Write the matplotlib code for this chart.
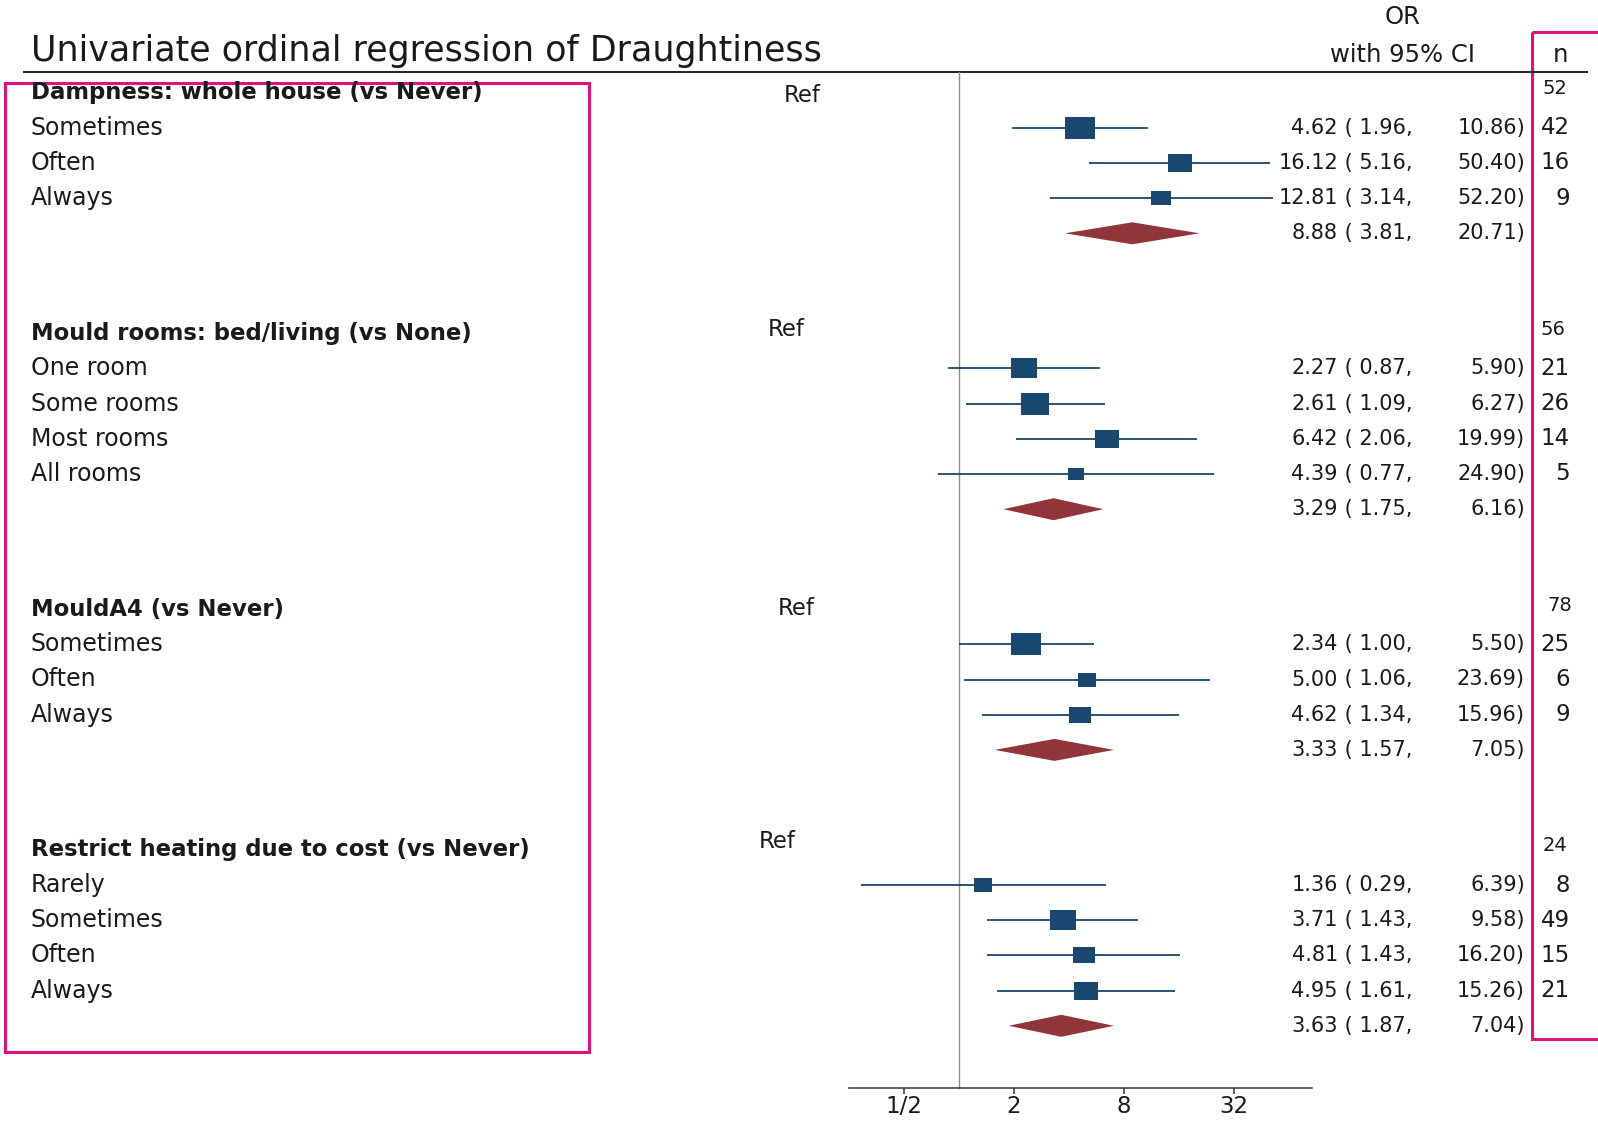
import numpy as np
import matplotlib
matplotlib.use("Agg")
import matplotlib.pyplot as plt
from matplotlib.path import Path
from matplotlib.patches import Rectangle
from matplotlib.ticker import FixedLocator, FixedFormatter, NullLocator

plt.rcParams['font.family'] = ['DejaVu Sans']

# ---------------- data ----------------
title = "Univariate ordinal regression of Draughtiness"

groups = [
    "Dampness: whole house (vs Never)",
    "Mould rooms: bed/living (vs None)",
    "MouldA4 (vs Never)",
    "Restrict heating due to cost (vs Never)",
]
ref_n = [52, 56, 78, 24]

levels = [
    ["Sometimes", "Often", "Always"],
    ["One room", "Some rooms", "Most rooms", "All rooms"],
    ["Sometimes", "Often", "Always"],
    ["Rarely", "Sometimes", "Often", "Always"],
]
odds = [
    [4.62, 16.12, 12.81],
    [2.27, 2.61, 6.42, 4.39],
    [2.34, 5.00, 4.62],
    [1.36, 3.71, 4.81, 4.95],
]
ci_low = [
    [1.96, 5.16, 3.14],
    [0.87, 1.09, 2.06, 0.77],
    [1.00, 1.06, 1.34],
    [0.29, 1.43, 1.43, 1.61],
]
ci_high = [
    [10.86, 50.40, 52.20],
    [5.90, 6.27, 19.99, 24.90],
    [5.50, 23.69, 15.96],
    [6.39, 9.58, 16.20, 15.26],
]
counts = [
    [42, 16, 9],
    [21, 26, 14, 5],
    [25, 6, 9],
    [8, 49, 15, 21],
]
pooled_or = [8.88, 3.29, 3.33, 3.63]
pooled_low = [3.81, 1.75, 1.57, 1.87]
pooled_high = [20.71, 6.16, 7.05, 7.04]

tick_values = [0.5, 2, 8, 32]
tick_labels = ["1/2", "2", "8", "32"]

# ---------------- layout (pixel units) ----------------
W, H = 1598, 1123
DPI = 100
ROW_H = 35.2
FIRST_ROW = 92.5
GROUP_GAP = 99.9
X_LABEL = 31
REF_X = [802, 786, 796, 777]
REF_DY = [3.5, -4, -1, -8]
REFN_X = [1542, 1541, 1547, 1543]
X_EST = 1338
X_HI = 1525
X_N = 1570
AXIS_Y = 1088
RULE_Y = 72
XMIN, XMAX = 0.25, 86.0
PX_PER_LOG2 = 55.0
X_ONE = 959.0

NAVY = "#1A476F"
MAROON = "#90353B"
PINK = "#E2117A"
TXT = "#1a1a1a"

fig = plt.figure(figsize=(W / DPI, H / DPI), dpi=DPI)
fig.patch.set_facecolor("white")

lay = fig.add_axes([0, 0, 1, 1])
lay.set_xlim(0, W)
lay.set_ylim(H, 0)
lay.axis("off")

x_left = X_ONE + PX_PER_LOG2 * np.log2(XMIN)
x_right = X_ONE + PX_PER_LOG2 * np.log2(XMAX)
fx = fig.add_axes([x_left / W, 0, (x_right - x_left) / W, 1])
fx.set_facecolor("none")
fx.set_xscale("log", base=2)
fx.set_xlim(XMIN, XMAX)
fx.set_ylim(H, 0)
for s in ("left", "right", "top"):
    fx.spines[s].set_visible(False)
fx.spines["bottom"].set_position(("data", AXIS_Y))
fx.spines["bottom"].set_color("#333333")
fx.spines["bottom"].set_linewidth(1.1)
fx.yaxis.set_major_locator(NullLocator())
fx.xaxis.set_major_locator(FixedLocator(tick_values))
fx.xaxis.set_major_formatter(FixedFormatter(tick_labels))
fx.xaxis.set_minor_locator(NullLocator())
fx.tick_params(axis="x", direction="out", length=4, width=1.1, color="#333333",
               labelsize=16.5, labelcolor=TXT, pad=0.8)

# title and column headers
lay.text(X_LABEL, 61, title, fontsize=25.1, color=TXT, va="baseline", ha="left")
lay.plot([23, 1588], [RULE_Y, RULE_Y], color="#222222", lw=1.4, solid_capstyle="butt")
lay.text(1403, 17, "OR", fontsize=17.5, color=TXT, ha="center", va="center")
lay.text(1403, 55, "with 95% CI", fontsize=17.5, color=TXT, ha="center", va="center")
lay.text(1560, 55, "n", fontsize=17.5, color=TXT, ha="center", va="center")

# line of no effect
fx.plot([1, 1], [RULE_Y, AXIS_Y], color="#8c8c8c", lw=1.0)

# box marker (slightly wider than tall)
box_path = Path([(-0.5, -0.38), (0.5, -0.38), (0.5, 0.38), (-0.5, 0.38), (-0.5, -0.38)],
                [Path.MOVETO, Path.LINETO, Path.LINETO, Path.LINETO, Path.CLOSEPOLY])
BOX_SCALE = 14.95   # px per weight**0.4
DIAMOND_H = 22.0

y = FIRST_ROW
for g, name in enumerate(groups):
    header_y = y
    lay.text(X_LABEL, header_y, name, fontsize=16.4, fontweight="bold", color=TXT,
             ha="left", va="center")
    lay.text(REF_X[g], header_y + REF_DY[g], "Ref", fontsize=16.4, color=TXT,
             ha="center", va="center")
    lay.text(REFN_X[g], header_y - 4, str(ref_n[g]), fontsize=14, color=TXT,
             ha="left", va="center")

    for i, lab in enumerate(levels[g]):
        ry = header_y + ROW_H * (i + 1)
        o, lo, hi = odds[g][i], ci_low[g][i], ci_high[g][i]
        lay.text(X_LABEL, ry, lab, fontsize=17, color=TXT, ha="left", va="center")
        fx.plot([lo, hi], [ry, ry], color=NAVY, lw=1.3, solid_capstyle="butt")
        se = np.log(hi / lo) / 3.92
        weight = 1.0 / se ** 2
        width_px = BOX_SCALE * weight ** 0.4
        fx.plot([o], [ry], marker=box_path, markersize=width_px * 72 / DPI,
                color=NAVY, markeredgewidth=0, linestyle="none")
        lay.text(X_EST, ry, f"{o:.2f}", fontsize=15, color=TXT, ha="right", va="center")
        lay.text(X_EST, ry, f" ( {lo:.2f},", fontsize=15, color=TXT, ha="left", va="center")
        lay.text(X_HI, ry, f"{hi:.2f})", fontsize=15, color=TXT, ha="right", va="center")
        lay.text(X_N, ry, str(counts[g][i]), fontsize=16.5, color=TXT, ha="right", va="center")

    py = header_y + ROW_H * (len(levels[g]) + 1)
    po, pl, ph = pooled_or[g], pooled_low[g], pooled_high[g]
    fx.fill([pl, po, ph, po], [py, py - DIAMOND_H / 2, py, py + DIAMOND_H / 2],
            color=MAROON, lw=0)
    lay.text(X_EST, py, f"{po:.2f}", fontsize=15, color=TXT, ha="right", va="center")
    lay.text(X_EST, py, f" ( {pl:.2f},", fontsize=15, color=TXT, ha="left", va="center")
    lay.text(X_HI, py, f"{ph:.2f})", fontsize=15, color=TXT, ha="right", va="center")

    y = py + GROUP_GAP

# highlight frames
lay.add_patch(Rectangle((5, 82.5), 584, 969.5, fill=False, edgecolor=PINK, lw=2.2))
lay.add_patch(Rectangle((1532, 31.7), 90, 1007.3, fill=False, edgecolor=PINK, lw=2.2))

fig.savefig("out.png", dpi=DPI, facecolor="white")
